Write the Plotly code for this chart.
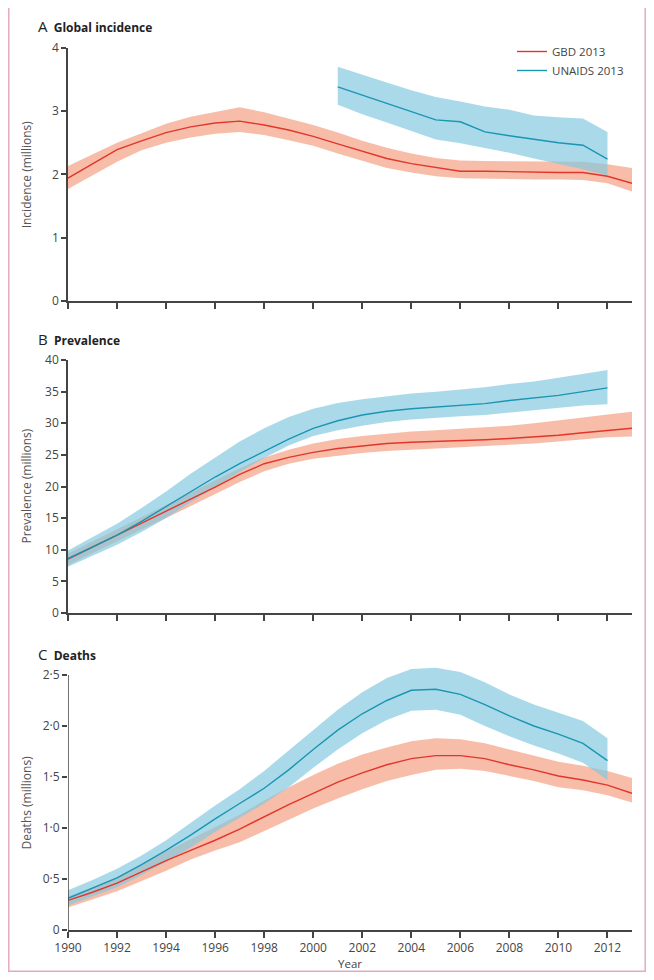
import plotly.graph_objects as go

# ---------------- data ----------------
years_gbd = list(range(1990, 2014))
years_unaids = list(range(1990, 2013))
years_unaids_inc = list(range(2001, 2013))

# Panel A: incidence (millions)
gbd_inc = [1.94, 2.17, 2.39, 2.53, 2.66, 2.75, 2.81, 2.84, 2.78, 2.70, 2.60, 2.48,
           2.36, 2.25, 2.17, 2.11, 2.05, 2.05, 2.04, 2.03, 2.03, 2.03, 1.97, 1.86]
gbd_inc_hi = [2.13, 2.32, 2.50, 2.65, 2.80, 2.91, 2.98, 3.06, 2.98, 2.88, 2.78, 2.66,
              2.53, 2.42, 2.33, 2.26, 2.22, 2.21, 2.21, 2.20, 2.20, 2.20, 2.16, 2.10]
gbd_inc_lo = [1.77, 1.98, 2.20, 2.38, 2.50, 2.58, 2.64, 2.67, 2.62, 2.54, 2.45, 2.33,
              2.21, 2.10, 2.03, 1.97, 1.94, 1.93, 1.93, 1.92, 1.92, 1.91, 1.86, 1.73]
unaids_inc = [3.38, 3.25, 3.12, 2.99, 2.86, 2.83, 2.67, 2.61, 2.55, 2.50, 2.46, 2.24]
unaids_inc_hi = [3.70, 3.57, 3.45, 3.33, 3.22, 3.15, 3.07, 3.02, 2.93, 2.90, 2.88, 2.67]
unaids_inc_lo = [3.10, 2.95, 2.82, 2.68, 2.55, 2.49, 2.42, 2.34, 2.25, 2.17, 2.08, 1.98]

# Panel B: prevalence (millions)
gbd_prev = [8.5, 10.4, 12.3, 14.1, 16.0, 18.0, 19.9, 21.9, 23.6, 24.6, 25.4, 26.0,
            26.4, 26.8, 27.0, 27.1, 27.2, 27.4, 27.6, 27.8, 28.1, 28.5, 28.9, 29.2]
gbd_prev_hi = [9.4, 11.3, 13.2, 15.1, 17.1, 19.0, 21.0, 22.9, 24.6, 25.8, 26.8, 27.5,
               28.0, 28.4, 28.7, 28.9, 29.1, 29.3, 29.6, 30.0, 30.4, 30.9, 31.4, 31.8]
gbd_prev_lo = [7.6, 9.5, 11.4, 13.2, 15.0, 16.9, 18.8, 20.7, 22.4, 23.6, 24.4, 24.9,
               25.3, 25.6, 25.8, 26.0, 26.1, 26.3, 26.5, 26.8, 27.1, 27.4, 27.8, 27.9]
unaids_prev = [8.6, 10.4, 12.3, 14.5, 16.8, 19.1, 21.5, 23.6, 25.5, 27.5, 29.2, 30.4,
               31.3, 31.9, 32.3, 32.6, 32.8, 33.1, 33.6, 34.0, 34.4, 35.0, 35.6]
unaids_prev_hi = [9.9, 12.0, 14.1, 16.6, 19.2, 22.0, 24.6, 27.1, 29.2, 31.0, 32.3, 33.2,
                  33.8, 34.3, 34.7, 35.0, 35.3, 35.7, 36.2, 36.6, 37.2, 37.8, 38.4]
unaids_prev_lo = [7.3, 9.0, 10.8, 12.8, 15.0, 17.5, 19.9, 22.3, 24.5, 26.5, 28.0, 28.9,
                  29.6, 30.2, 30.6, 30.9, 31.1, 31.3, 31.7, 32.0, 32.4, 32.8, 33.0]

# Panel C: deaths (millions)
gbd_deaths = [0.29, 0.37, 0.46, 0.57, 0.68, 0.78, 0.88, 0.99, 1.11, 1.23, 1.34, 1.45,
              1.54, 1.62, 1.68, 1.71, 1.71, 1.68, 1.62, 1.57, 1.51, 1.47, 1.42, 1.34]
gbd_deaths_hi = [0.33, 0.42, 0.52, 0.64, 0.77, 0.89, 1.01, 1.13, 1.27, 1.40, 1.52, 1.63,
                 1.72, 1.79, 1.85, 1.88, 1.87, 1.83, 1.77, 1.71, 1.65, 1.61, 1.56, 1.49]
gbd_deaths_lo = [0.22, 0.30, 0.38, 0.48, 0.58, 0.69, 0.78, 0.86, 0.97, 1.08, 1.19, 1.29,
                 1.38, 1.46, 1.52, 1.57, 1.58, 1.56, 1.51, 1.46, 1.40, 1.37, 1.32, 1.25]
unaids_deaths = [0.31, 0.41, 0.51, 0.64, 0.78, 0.93, 1.09, 1.24, 1.39, 1.57, 1.77, 1.96,
                 2.12, 2.25, 2.35, 2.36, 2.31, 2.21, 2.10, 2.00, 1.92, 1.83, 1.66]
unaids_deaths_hi = [0.39, 0.49, 0.60, 0.73, 0.88, 1.05, 1.22, 1.38, 1.56, 1.76, 1.96, 2.16,
                    2.33, 2.47, 2.56, 2.57, 2.53, 2.43, 2.31, 2.21, 2.13, 2.05, 1.88]
unaids_deaths_lo = [0.24, 0.33, 0.42, 0.54, 0.67, 0.81, 0.96, 1.10, 1.24, 1.40, 1.59, 1.77,
                    1.93, 2.06, 2.15, 2.16, 2.11, 2.00, 1.90, 1.81, 1.73, 1.64, 1.47]

x_tickvals = list(range(1990, 2013, 2))
yA_ticks = [0, 1, 2, 3, 4]
yB_ticks = [0, 5, 10, 15, 20, 25, 30, 35, 40]
yC_ticks = [0, 0.5, 1.0, 1.5, 2.0, 2.5]
yC_ticktext = ["0", "0·5", "1·0", "1·5", "2·0", "2·5"]

# ---------------- styles ----------------
RED = "#e2362c"
BLUE = "#1a95b2"
RED_FILL = "rgba(243,158,128,0.68)"
BLUE_FILL = "rgba(130,200,224,0.68)"
AXIS_COLOR = "#444444"
FONT = "Open Sans, Liberation Sans, sans-serif"

fig = go.Figure()


def band(x, lo, hi, fill, xa, ya):
    fig.add_trace(go.Scatter(x=x, y=lo, mode="lines", line=dict(width=0, color=fill),
                             showlegend=False, hoverinfo="skip", xaxis=xa, yaxis=ya))
    fig.add_trace(go.Scatter(x=x, y=hi, mode="lines", line=dict(width=0, color=fill),
                             fill="tonexty", fillcolor=fill, showlegend=False,
                             hoverinfo="skip", xaxis=xa, yaxis=ya))


def line(x, y, color, name, xa, ya, show):
    fig.add_trace(go.Scatter(x=x, y=y, mode="lines", line=dict(width=1.4, color=color),
                             name=name, showlegend=show, xaxis=xa, yaxis=ya))


panels = [
    ("x", "y", gbd_inc, gbd_inc_lo, gbd_inc_hi, years_unaids_inc, unaids_inc, unaids_inc_lo, unaids_inc_hi),
    ("x2", "y2", gbd_prev, gbd_prev_lo, gbd_prev_hi, years_unaids, unaids_prev, unaids_prev_lo, unaids_prev_hi),
    ("x3", "y3", gbd_deaths, gbd_deaths_lo, gbd_deaths_hi, years_unaids, unaids_deaths, unaids_deaths_lo, unaids_deaths_hi),
]

for i, (xa, ya, g, glo, ghi, ux, u, ulo, uhi) in enumerate(panels):
    band(years_gbd, glo, ghi, RED_FILL, xa, ya)
    band(ux, ulo, uhi, BLUE_FILL, xa, ya)
    line(years_gbd, g, RED, "GBD 2013", xa, ya, i == 0)
    line(ux, u, BLUE, "UNAIDS 2013", xa, ya, i == 0)

# page has an 8px body margin; size the figure so the page does not overflow the window
OFF = 8
W, H = 654 - 2 * OFF, 980 - 2 * OFF


def px(xw):
    return (xw - OFF) / W


def py(yw):
    return (H - (yw - OFF)) / H


x_dom = [px(68), px(632)]


def ydom(top_px, bottom_px):
    return [py(bottom_px), py(top_px)]


common_x = dict(range=[1990, 2013], domain=x_dom, showline=True, linecolor=AXIS_COLOR,
                linewidth=1.5, ticks="outside", ticklen=6, tickwidth=1.5, tickcolor=AXIS_COLOR,
                tickvals=x_tickvals, showgrid=False, zeroline=False, automargin=False,
                tickfont=dict(family=FONT, size=12, color="#444444"))
common_y = dict(showline=True, linecolor=AXIS_COLOR, linewidth=1.5, ticks="outside",
                ticklen=5, tickwidth=1.5, tickcolor=AXIS_COLOR, showgrid=False, zeroline=False,
                automargin=False, tickfont=dict(family=FONT, size=12, color="#444444"))

# panel C: the uncertainty band pokes slightly above 2.5, so the range goes a bit higher
C_TOP = 2.62
c_px_per_unit = (930 - 675) / 2.5
c_top_px = 930 - C_TOP * c_px_per_unit

fig.update_layout(
    width=W, height=H,
    margin=dict(l=0, r=0, t=0, b=0, autoexpand=False),
    paper_bgcolor="white", plot_bgcolor="white",
    font=dict(family=FONT, color="#444444"),
    xaxis=dict(common_x, anchor="y", showticklabels=False),
    xaxis2=dict(common_x, anchor="y2", showticklabels=False),
    xaxis3=dict(common_x, anchor="y3", showticklabels=True),
    yaxis=dict(common_y, anchor="x", domain=ydom(47.7, 301), range=[0, 4], tickvals=yA_ticks),
    yaxis2=dict(common_y, anchor="x2", domain=ydom(360, 613), range=[0, 40], tickvals=yB_ticks),
    yaxis3=dict(common_y, anchor="x3", domain=ydom(c_top_px, 930), range=[0, C_TOP],
                tickvals=yC_ticks, ticktext=yC_ticktext, showline=False),
    legend=dict(x=px(512), y=py(37), xanchor="left", yanchor="top",
                bgcolor="rgba(0,0,0,0)", font=dict(family=FONT, size=11.5, color="#444444"),
                itemwidth=30, tracegroupgap=0, traceorder="normal"),
    showlegend=True,
)

# y axis line of panel C, ending at the 2.5 tick
fig.add_shape(type="line", xref="x3", yref="y3", x0=1990, x1=1990, y0=0, y1=2.5,
              line=dict(color=AXIS_COLOR, width=1.5), layer="above")

# panel titles
titles = [("A", "Global incidence", 26), ("B", "Prevalence", 339), ("C", "Deaths", 654)]
for letter, txt, ypx in titles:
    fig.add_annotation(xref="paper", yref="paper", x=px(36), y=py(ypx),
                       xanchor="left", yanchor="middle", showarrow=False,
                       text=f"<span style='font-size:15px'>{letter}</span>&nbsp;&nbsp;<b>{txt}</b>",
                       font=dict(family=FONT, size=12, color="#222222"))

# y titles
ytitles = [("Incidence (millions)", 47.7, 301), ("Prevalence (millions)", 360, 613),
           ("Deaths (millions)", 675, 930)]
for txt, top, bot in ytitles:
    fig.add_annotation(xref="paper", yref="paper", x=px(26), y=py((top + bot) / 2),
                       xanchor="center", yanchor="middle", showarrow=False, textangle=-90,
                       text=txt, font=dict(family=FONT, size=12, color="#555555"))

fig.add_annotation(xref="paper", yref="paper", x=px((68 + 632) / 2), y=py(963),
                   xanchor="center", yanchor="middle", showarrow=False, text="Year",
                   font=dict(family=FONT, size=11.5, color="#444444"))

# pink frame (kept inside the figure area)
fig.add_shape(type="rect", xref="paper", yref="paper", x0=px(8.8), x1=px(645.2),
              y0=py(971.2), y1=py(6), line=dict(color="#e3aac2", width=1.5),
              fillcolor="rgba(0,0,0,0)", layer="below")

fig.write_html("out.html")
